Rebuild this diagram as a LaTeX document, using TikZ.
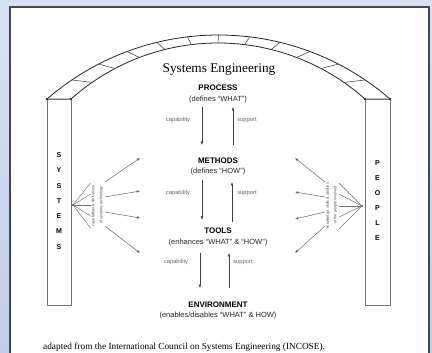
\documentclass[tikz,border=0pt]{standalone}
\usepackage{fontspec}
\setmainfont{Liberation Serif}
\setsansfont{Liberation Sans}
\usetikzlibrary{arrows.meta}
\definecolor{bgtop}{RGB}{216,225,243}
\definecolor{bgbot}{RGB}{192,206,234}
\definecolor{frame}{RGB}{70,70,75}
\begin{document}
\begin{tikzpicture}[x=1pt,y=-1pt,
  ttl/.style={font=\sffamily\bfseries\fontsize{8}{9}\selectfont, inner sep=0pt},
  sub/.style={font=\sffamily\fontsize{7.5}{8}\selectfont, text=black!85, inner sep=0pt},
  lbl/.style={font=\sffamily\fontsize{5.8}{6}\selectfont, text=black!60, inner sep=0pt},
  vlbl/.style={font=\sffamily\fontsize{3.8}{4}\selectfont, text=black!70, inner sep=0.3pt, rotate=90},
  letter/.style={font=\sffamily\bfseries\fontsize{7}{8}\selectfont, inner sep=0pt},
  flow/.style={draw=black!75, line width=0.5pt, -{Latex[length=3.5pt,width=2.8pt]}},
  fan/.style={draw=black!55, line width=0.45pt},
  ray/.style={draw=black!60, line width=0.5pt, -{Latex[length=3.2pt,width=2.6pt]}},
  archline/.style={draw=black!85, line width=0.8pt},
  colline/.style={draw=black!55, line width=0.6pt}
]
\useasboundingbox (0,0) rectangle (432,353);
\clip (0,0) rectangle (432,353);
\shade[top color=bgtop, bottom color=bgbot] (0,0) rectangle (432,353);
\filldraw[fill=white, draw=frame, line width=1.6pt] (10,7) rectangle (429,365);

% arch
\draw[archline] plot[domain=49.1:130.9,samples=90] ({218.5+261.8*cos(\x)},{296.8-261.8*sin(\x)});
\draw[archline] plot[domain=48.3:131.7,samples=90] ({218+220.9*cos(\x)},{263.9-220.9*sin(\x)});
\foreach \k in {0,...,12}{
  \pgfmathsetmacro\ao{130.9-\k*81.8/12}
  \pgfmathsetmacro\ai{131.7-\k*83.4/12}
  \draw[black!70, line width=0.6pt] ({218.5+261.8*cos(\ao)},{296.8-261.8*sin(\ao)}) -- ({218+220.9*cos(\ai)},{263.9-220.9*sin(\ai)});
}

% columns
\draw[colline] (47,99) rectangle (71,305);
\draw[colline] (365,99) rectangle (390,305);
\foreach \p in {(47,99),(71,99),(365,99),(390,99)} \fill[black!80] \p circle (1.4);

% column letters
\foreach \c [count=\i from 0] in {S,Y,S,T,E,M,S}
  \node[letter] (sl\i) at (59,{155+\i*15.3}) {\c};
\foreach \c [count=\i from 0] in {P,E,O,P,L,E}
  \node[letter] (pl\i) at (377.5,{163+\i*15}) {\c};

% title and elements
\node[font=\fontsize{13.3}{15}\selectfont, inner sep=0pt] (se) at (219,70) {Systems Engineering};
\node[ttl] (p1) at (218,88) {PROCESS};
\node[sub] (p2) at (218,99.5) {(defines ``WHAT'')};
\node[ttl] (m1) at (218,161) {METHODS};
\node[sub] (m2) at (218,172) {(defines ``HOW'')};
\node[ttl] (t1) at (218,230.5) {TOOLS};
\node[sub] (t2) at (218,243) {(enhances ``WHAT'' \& ``HOW'')};
\node[ttl] (e1) at (218,305) {ENVIRONMENT};
\node[sub] (e2) at (218,315.5) {(enables/disables ``WHAT'' \& HOW)};

% vertical flow arrows
\coordinate (a1) at (202,107); \coordinate (a2) at (202,145);
\coordinate (b1) at (233,145); \coordinate (b2) at (233,107);
\coordinate (c1) at (202,180); \coordinate (c2) at (202,220);
\coordinate (d1) at (232,222); \coordinate (d2) at (232,182);
\coordinate (f1) at (200,253); \coordinate (f2) at (200,288);
\coordinate (g1) at (229,288); \coordinate (g2) at (229,253);
\draw[flow] (a1) -- (a2);
\draw[flow] (b1) -- (b2);
\draw[flow] (c1) -- (c2);
\draw[flow] (d1) -- (d2);
\draw[flow] (f1) -- (f2);
\draw[flow] (g1) -- (g2);
\node[lbl] (la) at (178,120) {capability};
\node[lbl] (lb) at (247,120) {support};
\node[lbl] (lc) at (178,193) {capability};
\node[lbl] (ld) at (247,193) {support};
\node[lbl] (lf) at (176,262) {capability};
\node[lbl] (lg) at (243,262) {support};

% left fan (SYSTEMS)
\coordinate (sv) at (73,205);
\fill[black!70] (sv) circle (1.1);
\foreach \yy in {183,194,205,216,228} \draw[fan] (sv) -- (90.5,\yy);
\node[vlbl] (sb1) at (93.5,206) {capabilities \& limitations};
\node[vlbl] (sb2) at (101.5,205) {of systems technology};
\coordinate (so1) at (105,182); \coordinate (st1) at (140,158);
\coordinate (so2) at (105,197); \coordinate (st2) at (140,191);
\coordinate (so3) at (105,212); \coordinate (st3) at (140,218);
\coordinate (so4) at (105,226); \coordinate (st4) at (140,253);
\draw[ray] (so1) -- (st1);
\draw[ray] (so2) -- (st2);
\draw[ray] (so3) -- (st3);
\draw[ray] (so4) -- (st4);

% right fan (PEOPLE)
\coordinate (pv) at (362,206);
\fill[black!70] (pv) circle (1.1);
\foreach \yy in {183,194,206,217,229} \draw[fan] (pv) -- (339,\yy);
\node[vlbl] (pb1) at (328,206) {knowledge, skills \& abilities};
\node[vlbl] (pb2) at (335.5,205) {of the people involved};
\coordinate (po1) at (325,182); \coordinate (pt1) at (295,158);
\coordinate (po2) at (325,197); \coordinate (pt2) at (295,192);
\coordinate (po3) at (325,212); \coordinate (pt3) at (295,219);
\coordinate (po4) at (325,226); \coordinate (pt4) at (295,253);
\draw[ray] (po1) -- (pt1);
\draw[ray] (po2) -- (pt2);
\draw[ray] (po3) -- (pt3);
\draw[ray] (po4) -- (pt4);

% footer
\node[anchor=west, font=\fontsize{9.3}{10}\selectfont, inner sep=0pt] (ft) at (43,347) {adapted from the International Council on Systems Engineering (INCOSE).};
\end{tikzpicture}
\end{document}
